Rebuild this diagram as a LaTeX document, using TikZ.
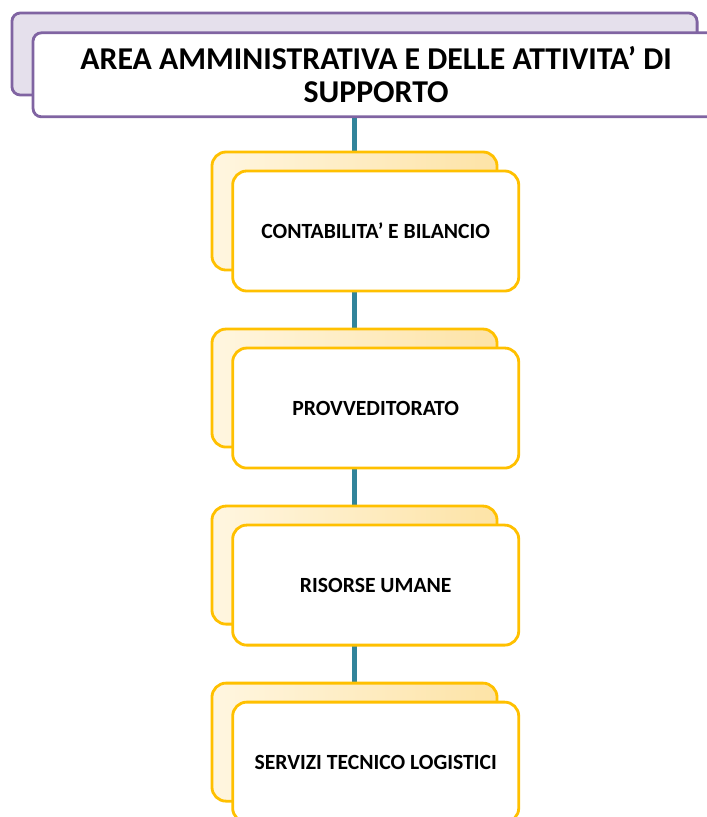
\documentclass[tikz,border=0pt]{standalone}
\usepackage{fontspec}
\setmainfont{Carlito}
\usepackage{tikz}
\usetikzlibrary{positioning,backgrounds}
\definecolor{viola}{HTML}{8064A2}
\definecolor{lilla}{HTML}{E5E0EC}
\definecolor{oro}{HTML}{FFC000}
\definecolor{crema}{HTML}{FFF6E0}
\definecolor{ambra}{HTML}{FDE3A6}
\definecolor{ottanio}{HTML}{31849B}
\tikzset{
  tb/.style={rectangle,draw=viola,line width=2pt,rounded corners=6pt,fill=lilla,minimum width=17.125cm,minimum height=2.05cm},
  tf/.style={rectangle,draw=viola,line width=2pt,rounded corners=6pt,fill=white,minimum width=17.15cm,minimum height=2.1cm,align=center,font=\fontsize{22.6}{23.5}\selectfont\bfseries},
  bb/.style={rectangle,draw=oro,line width=2pt,rounded corners=10pt,left color=crema,right color=ambra,minimum width=7.125cm,minimum height=2.95cm},
  fb/.style={rectangle,draw=oro,line width=2pt,rounded corners=10pt,fill=white,minimum width=7.15cm,minimum height=3cm,align=center,font=\fontsize{15.4}{18}\selectfont\bfseries},
  conn/.style={draw=ottanio,line width=3pt},
}
\begin{document}
\begin{tikzpicture}[x=0.025cm,y=-0.025cm,node distance=0.5cm and 0.53cm,on grid]
  \useasboundingbox (0,0) rectangle (707,817);
  \clip (0,0) rectangle (707,817);
  % testata
  \node[tb] (titleb) at (354.5,54) {};
  \node[tf,below right=0.52cm and 0.54cm of titleb] (title) {AREA AMMINISTRATIVA E DELLE ATTIVITA' DI\\SUPPORTO};
  % uffici
  \node[bb] (contb) at (354.5,211) {};
  \node[fb,below right=of contb] (cont) {CONTABILITA' E BILANCIO};
  \node[bb,below=4.425cm of contb] (provb) {};
  \node[fb,below right=of provb] (prov) {PROVVEDITORATO};
  \node[bb,below=4.425cm of provb] (risb) {};
  \node[fb,below right=of risb] (ris) {RISORSE UMANE};
  \node[bb,below=4.425cm of risb] (servb) {};
  \node[fb,below right=of servb] (serv) {SERVIZI TECNICO LOGISTICI};
  \begin{scope}[on background layer]
    \draw[conn] (titleb.south) -- (servb.north);
  \end{scope}
\end{tikzpicture}
\end{document}
